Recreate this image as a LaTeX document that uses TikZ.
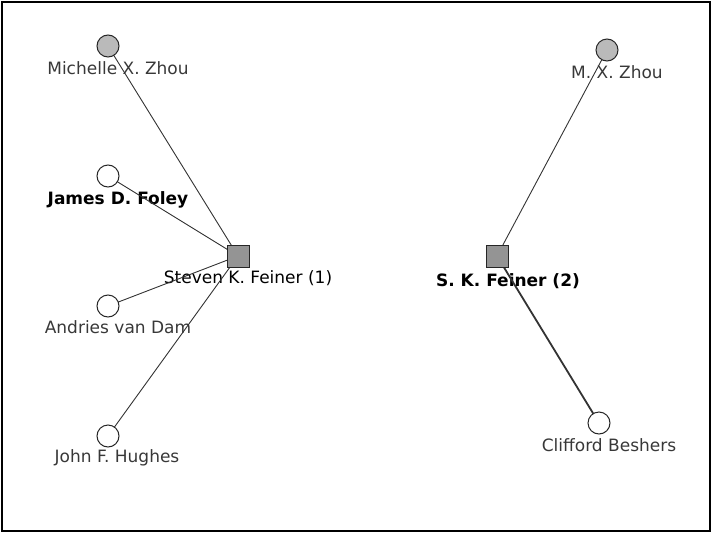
\documentclass[tikz,border=0pt]{standalone}
\usepackage{fontspec}
\setmainfont{DejaVu Sans}
\begin{document}
\begin{tikzpicture}[x=1pt,y=-1pt,
  person/.style={circle,draw=black!85,line width=1pt,minimum size=22pt,inner sep=0pt,fill=white},
  hub/.style={circle,draw=black!85,line width=1pt,minimum size=22pt,inner sep=0pt,fill=black!27},
  author/.style={rectangle,draw=black!85,line width=1pt,minimum size=22pt,inner sep=0pt,fill=black!42},
  lbl/.style={inner sep=0pt,font=\fontsize{17}{19}\selectfont,text=black!78},
  blbl/.style={inner sep=0pt,font=\fontsize{17}{19}\selectfont\bfseries,text=black},
  link/.style={draw=black!80,line width=0.9pt}]
\useasboundingbox (0,0) rectangle (712,533);
\draw[line width=1.5pt] (2,2) rectangle (710,531);
% labels sit under the links
\node[lbl]  (lzhou)  at (118,68)  {Michelle X. Zhou};
\node[blbl] (lfoley) at (118,200) {James D. Foley};
\node[lbl,text=black] (lfein1) at (248,278) {Steven K. Feiner (1)};
\node[lbl]  (ldam)   at (118,327) {Andries van Dam};
\node[lbl]  (lhugh)  at (117,458) {John F. Hughes};
\node[lbl]  (lmxz)   at (617,72)  {M. X. Zhou};
\node[blbl] (lfein2) at (508,281) {S. K. Feiner (2)};
\node[lbl]  (lbesh)  at (609,445) {Clifford Beshers};
% node positions
\coordinate (zhou)  at (108,46);
\coordinate (foley) at (108,176);
\coordinate (fein1) at (238,256);
\coordinate (dam)   at (108,306);
\coordinate (hugh)  at (108,436);
\coordinate (mxz)   at (607,50);
\coordinate (fein2) at (497,256);
\coordinate (besh)  at (599,423);
% links
\draw[link] (zhou) -- (fein1);
\draw[link] (foley) -- (fein1);
\draw[link] (dam) -- (fein1);
\draw[link] (hugh) -- (fein1);
\draw[link] (mxz) -- (fein2);
\draw[link,line width=1.8pt] (fein2) -- (besh);
% shapes on top
\node[hub]    (nzhou)  at (zhou)  {};
\node[person] (nfoley) at (foley) {};
\node[author] (nfein1) at (fein1) {};
\node[person] (ndam)   at (dam)   {};
\node[person] (nhugh)  at (hugh)  {};
\node[hub]    (nmxz)   at (mxz)   {};
\node[author] (nfein2) at (fein2) {};
\node[person] (nbesh)  at (besh)  {};
\end{tikzpicture}
\end{document}
